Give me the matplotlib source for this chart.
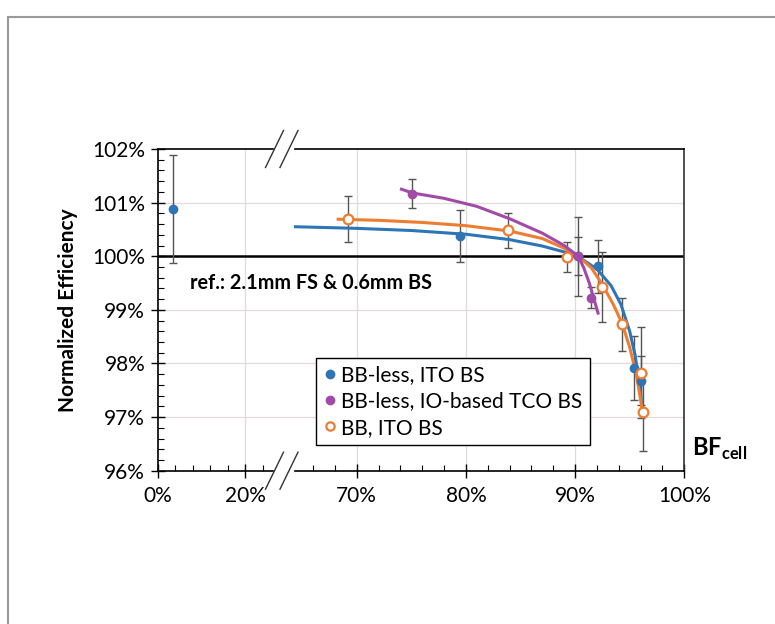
import numpy as np
import matplotlib
matplotlib.use("Agg")
import matplotlib.pyplot as plt
from matplotlib.lines import Line2D
from matplotlib.patches import Rectangle
from matplotlib.ticker import FixedLocator, FuncFormatter

plt.rcParams["font.family"] = ["Lato", "DejaVu Sans"]
plt.rcParams["mathtext.fontset"] = "custom"
plt.rcParams["mathtext.bf"] = "Lato:bold"
plt.rcParams["mathtext.rm"] = "Lato"

# measured points (BF_cell in %, normalized efficiency in %)
blue_x = [3.6, 79.5, 90.3, 92.1, 95.4, 96.0]
blue_y = [100.88, 100.38, 100.0, 99.81, 97.91, 97.68]
blue_err = [1.0, 0.49, 0.74, 0.5, 0.6, 0.45]

purple_x = [75.1, 90.3, 91.5]
purple_y = [101.17, 100.0, 99.23]
purple_err = [0.27, 0.35, 0.2]

orange_x = [69.2, 83.9, 89.3, 92.5, 94.3, 96.0, 96.2]
orange_y = [100.70, 100.48, 99.98, 99.42, 98.73, 97.83, 97.09]
orange_err = [0.43, 0.33, 0.28, 0.65, 0.5, 0.85, 0.73]

# fitted trend lines
blue_fit_x = [64.4, 70, 75, 80, 84, 87, 89, 90.3, 92, 93.3, 94.2, 95.0, 95.5, 95.9, 96.2]
blue_fit_y = [100.55, 100.52, 100.48, 100.41, 100.31, 100.19, 100.08, 99.99, 99.76, 99.45, 99.1, 98.6, 98.15, 97.6, 97.05]

orange_fit_x = [68.3, 72, 76, 80, 84, 87, 89, 90.3, 91.5, 92.5, 93.5, 94.3, 95.0, 95.6, 96.1]
orange_fit_y = [100.69, 100.67, 100.63, 100.57, 100.47, 100.33, 100.15, 100.0, 99.78, 99.47, 99.1, 98.75, 98.3, 97.8, 97.2]

purple_fit_x = [74.1, 75.1, 78, 81, 84, 87, 89, 90.3, 90.8, 91.3, 91.7, 92.1]
purple_fit_y = [101.25, 101.18, 101.08, 100.93, 100.7, 100.43, 100.2, 100.0, 99.78, 99.5, 99.22, 98.94]

labels = ["BB-less, ITO BS", "BB-less, IO-based TCO BS", "BB, ITO BS"]
x_major = [0, 20, 70, 80, 90, 100]
x_minor = [4, 8, 12, 16, 24, 66, 68, 72, 74, 76, 78, 82, 84, 86, 88, 92, 94, 96, 98]
y_major = [96, 97, 98, 99, 100, 101, 102]

C_BLUE = "#2e75b6"
C_PURPLE = "#a14aa8"
C_ORANGE = "#ed7d31"

# broken x axis: 0-26.4 % compressed, 64.35-100 % stretched
brk_val = [-100, 0, 26.4, 64.35, 100, 200]
brk_pos = [-438, 0, 115.6, 137.3, 526.6, 1618.6]


def fwd(x):
    return np.interp(x, brk_val, brk_pos)


def inv(p):
    return np.interp(p, brk_pos, brk_val)


fig = plt.figure(figsize=(7.75, 6.24), dpi=100)
ax = fig.add_axes([157.7 / 775, 1 - 470.7 / 624, 526.6 / 775, 321.7 / 624])
ax.set_xscale("function", functions=(fwd, inv))
ax.set_xlim(0, 100)
ax.set_ylim(96, 102)

# grid
for v in [20, 70, 80, 90]:
    ax.axvline(v, color="#dcdcdc", lw=0.9, zorder=0)
for v in [97, 98, 99, 101]:
    ax.axhline(v, color="#e4dada", lw=0.9, zorder=0)
ax.axhline(100, color="black", lw=1.8, zorder=1)

# trend lines
ax.plot(blue_fit_x, blue_fit_y, color=C_BLUE, lw=2.2, zorder=3)
ax.plot(orange_fit_x, orange_fit_y, color=C_ORANGE, lw=2.2, zorder=3)
ax.plot(purple_fit_x, purple_fit_y, color=C_PURPLE, lw=2.2, zorder=3)

# error bars + points
eb = dict(fmt="none", ecolor="#555555", elinewidth=1.0, capsize=3, capthick=1.0, zorder=2)
ax.errorbar(blue_x, blue_y, yerr=blue_err, **eb)
ax.errorbar(purple_x, purple_y, yerr=purple_err, **eb)
ax.errorbar(orange_x, orange_y, yerr=orange_err, **eb)
ax.plot(blue_x, blue_y, "o", color=C_BLUE, ms=6, zorder=4)
ax.plot(purple_x, purple_y, "o", color=C_PURPLE, ms=6, zorder=4)
ax.plot(orange_x, orange_y, "o", mfc="white", mec=C_ORANGE, mew=1.6, ms=7, zorder=4)

# axes frame with the break
for s in ["top", "bottom"]:
    ax.spines[s].set_visible(False)
ax.spines["left"].set_linewidth(1.2)
ax.spines["right"].set_linewidth(1.2)
ax.spines["right"].set_color("#333333")
xt = ax.get_xaxis_transform()
for yy in [0, 1]:
    ax.plot([0, 26.4], [yy, yy], color="black", lw=1.2, transform=xt, clip_on=False, zorder=5)
    ax.plot([64.35, 100], [yy, yy], color="black", lw=1.2, transform=xt, clip_on=False, zorder=5)
    # the "//" break marks
    for cx in [0.2218, 0.2493]:
        ax.plot([cx - 0.0171, cx + 0.0171], [yy - 0.0575, yy + 0.0575], color="#333333", lw=1.0,
                transform=ax.transAxes, clip_on=False, zorder=5)

ax.xaxis.set_major_locator(FixedLocator(x_major))
ax.xaxis.set_minor_locator(FixedLocator(x_minor))
ax.yaxis.set_major_locator(FixedLocator(y_major))
ax.yaxis.set_minor_locator(FixedLocator(np.arange(96, 102.01, 0.2)))
pct = FuncFormatter(lambda v, p: f"{v:.0f}%")
ax.xaxis.set_major_formatter(pct)
ax.yaxis.set_major_formatter(pct)
ax.tick_params(which="major", direction="inout", length=10, width=1, labelsize=15, colors="black")
ax.tick_params(which="minor", direction="in", length=4, width=0.8)
ax.tick_params(axis="x", which="major", pad=6)
ax.tick_params(axis="y", which="major", pad=4)

ax.set_ylabel("Normalized Efficiency", fontsize=15, fontweight="bold", labelpad=10)

ax.text(7.4, 99.5, "ref.: 2.1mm FS & 0.6mm BS", fontsize=14.3, fontweight="bold", va="center", ha="left")
ax.text(1.015, 0.067, r"$\mathbf{BF}_{\mathbf{cell}}$", transform=ax.transAxes, fontsize=17,
        va="center", ha="left")

handles = [
    Line2D([0], [0], ls="none", marker="o", color=C_BLUE, ms=6),
    Line2D([0], [0], ls="none", marker="o", color=C_PURPLE, ms=6),
    Line2D([0], [0], ls="none", marker="o", mfc="white", mec=C_ORANGE, mew=1.6, ms=6),
]
leg = ax.legend(handles, labels, loc="lower left", bbox_to_anchor=(0.3006, 0.08), borderaxespad=0,
                fontsize=15, fancybox=False, edgecolor="black", framealpha=1, handlelength=0.6,
                handletextpad=0.25, labelspacing=0.3, borderpad=0.35)
leg.get_frame().set_linewidth(1.0)
leg.set_zorder(6)

# outer gray frame of the original figure
fig.add_artist(Rectangle((8 / 775, -0.2), 1.3, 1.2 - 17 / 624, transform=fig.transFigure,
                         fill=False, edgecolor="#9a9a9a", lw=1.5))

fig.savefig("out.png", dpi=100)
